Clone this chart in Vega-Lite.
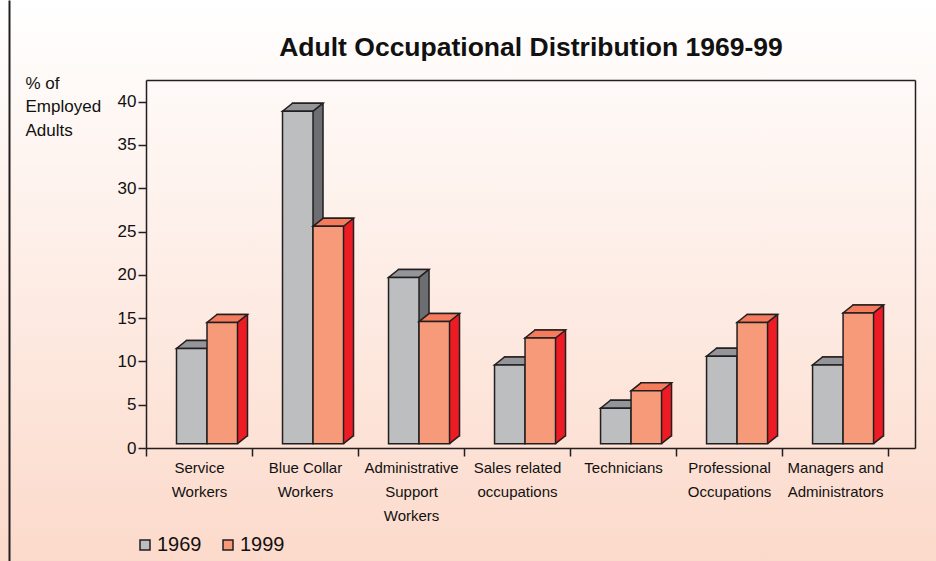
{
  "$schema": "https://vega.github.io/schema/vega-lite/v6.json",
  "width": 936,
  "height": 561,
  "autosize": {"type": "none"},
  "padding": 0,
  "background": "#ffffff",
  "config": {"view": {"stroke": null}, "font": "Liberation Sans"},
  "title": {"text": "Adult Occupational Distribution 1969-99", "anchor": "middle", "dx": 63, "offset": -61, "fontSize": 26.5, "fontWeight": "bold", "font": "Liberation Sans", "color": "#111111"},
  "data": {"values": [
    {"cat": "Service Workers", "year": "1969", "value": 11.5},
    {"cat": "Service Workers", "year": "1999", "value": 14.5},
    {"cat": "Blue Collar Workers", "year": "1969", "value": 38.9},
    {"cat": "Blue Collar Workers", "year": "1999", "value": 25.6},
    {"cat": "Administrative Support Workers", "year": "1969", "value": 19.7},
    {"cat": "Administrative Support Workers", "year": "1999", "value": 14.6},
    {"cat": "Sales related occupations", "year": "1969", "value": 9.6},
    {"cat": "Sales related occupations", "year": "1999", "value": 12.7},
    {"cat": "Technicians", "year": "1969", "value": 4.6},
    {"cat": "Technicians", "year": "1999", "value": 6.6},
    {"cat": "Professional Occupations", "year": "1969", "value": 10.6},
    {"cat": "Professional Occupations", "year": "1999", "value": 14.5},
    {"cat": "Managers and Administrators", "year": "1969", "value": 9.6},
    {"cat": "Managers and Administrators", "year": "1999", "value": 15.6}
  ]},
  "resolve": {"scale": {"x": "independent", "y": "independent"}, "axis": {"x": "independent", "y": "independent"}},
  "layer": [
    {
      "data": {"values": [{}]},
      "mark": {"type": "rect", "fill": {"gradient": "linear", "x1": 0, "y1": 0, "x2": 0, "y2": 1, "stops": [{"offset": 0, "color": "#ffffff"}, {"offset": 1, "color": "#fcdacb"}]}},
      "encoding": {
        "y": {"datum": 0, "type": "quantitative", "scale": {"domain": [0, 1], "range": [561, 0], "nice": false, "zero": false}, "axis": {"orient": "left", "offset": -9, "zindex": 1, "title": null, "grid": false, "ticks": false, "labels": false, "domainColor": "#231f20", "domainWidth": 2}},
        "y2": {"datum": 1}
      }
    },
    {
      "resolve": {"axis": {"x": "independent", "y": "independent"}},
      "layer": [
        {
          "transform": [{"filter": "datum.year == '1969'"}],
          "mark": {"type": "bar", "width": 30.5, "xOffset": 2.75, "yOffset": -8, "y2Offset": -8, "fill": "#6d6e71", "stroke": "#231f20", "strokeWidth": 1.5},
          "encoding": {
            "x": {"field": "cat", "type": "nominal", "axis": null, "scale": {"type": "band", "domain": ["Service Workers", "Blue Collar Workers", "Administrative Support Workers", "Sales related occupations", "Technicians", "Professional Occupations", "Managers and Administrators"], "range": [146, 915], "paddingInner": 0, "paddingOuter": 0.127, "align": 0}},
            "y": {"field": "value", "type": "quantitative", "axis": null, "scale": {"domain": [0, 42.5], "range": [448, 80], "nice": false, "zero": false}},
            "y2": {"datum": 0.5}
          }
        },
        {
          "transform": [{"filter": "datum.year == '1969'"}],
          "mark": {"type": "point", "shape": "M0,0 L30.5,0 L40.5,-8 L10,-8 Z", "size": 4, "filled": true, "opacity": 1, "xOffset": -22.5, "fill": "#939598", "stroke": "#231f20", "strokeWidth": 1.5},
          "encoding": {
            "x": {"field": "cat", "type": "nominal", "axis": null},
            "y": {"field": "value", "type": "quantitative", "axis": null}
          }
        },
        {
          "transform": [{"filter": "datum.year == '1969'"}],
          "mark": {"type": "bar", "width": 30.5, "xOffset": -7.25, "stroke": "#231f20", "strokeWidth": 1.5},
          "encoding": {
            "x": {"field": "cat", "type": "nominal", "axis": {"orient": "bottom", "offset": -113, "zindex": 1, "title": null, "grid": false, "domainColor": "#231f20", "domainWidth": 1.5, "tickColor": "#231f20", "tickWidth": 1.5, "tickSize": 8, "tickBand": "extent", "labelAngle": 0, "labelFont": "Liberation Sans", "labelFontSize": 15, "labelColor": "#111111", "labelLineHeight": 24, "labelPadding": 4, "labelBaseline": "top", "labelOverlap": false, "labelLimit": 0, "labelExpr": "datum.label == 'Service Workers' ? ['Service','Workers'] : datum.label == 'Blue Collar Workers' ? ['Blue Collar','Workers'] : datum.label == 'Administrative Support Workers' ? ['Administrative','Support','Workers'] : datum.label == 'Sales related occupations' ? ['Sales related','occupations'] : datum.label == 'Professional Occupations' ? ['Professional','Occupations'] : datum.label == 'Managers and Administrators' ? ['Managers and','Administrators'] : datum.label"}},
            "y": {"field": "value", "type": "quantitative", "axis": {"orient": "left", "offset": -146, "zindex": 1, "values": [0, 5, 10, 15, 20, 25, 30, 35, 40], "grid": false, "domainColor": "#231f20", "domainWidth": 1.5, "tickColor": "#231f20", "tickWidth": 1.5, "tickSize": 8, "labelFont": "Liberation Sans", "labelFontSize": 17, "labelColor": "#111111", "labelPadding": 2, "title": ["% of", "Employed", "Adults"], "titleAngle": 0, "titleAlign": "left", "titleBaseline": "alphabetic", "titleX": -121, "titleY": 88, "titleFont": "Liberation Sans", "titleFontSize": 17, "titleFontWeight": "normal", "titleColor": "#111111", "titleLineHeight": 23.5}},
            "y2": {"datum": 0.5},
            "color": {"field": "year", "type": "nominal", "scale": {"domain": ["1969", "1999"], "range": ["#bcbec0", "#f79a7a"]}, "legend": {"orient": "none", "legendX": 135, "legendY": 535, "direction": "horizontal", "title": null, "symbolType": "square", "symbolSize": 100, "symbolStrokeColor": "#231f20", "symbolStrokeWidth": 1.5, "labelFont": "Liberation Sans", "labelFontSize": 20, "labelColor": "#111111", "labelOffset": 2, "columnPadding": 16}}
          }
        },
        {
          "transform": [{"filter": "datum.year == '1999'"}],
          "mark": {"type": "bar", "width": 30.5, "xOffset": 33.25, "yOffset": -8, "y2Offset": -8, "fill": "#ed1c24", "stroke": "#231f20", "strokeWidth": 1.5},
          "encoding": {
            "x": {"field": "cat", "type": "nominal", "axis": null},
            "y": {"field": "value", "type": "quantitative", "axis": null},
            "y2": {"datum": 0.5}
          }
        },
        {
          "transform": [{"filter": "datum.year == '1999'"}],
          "mark": {"type": "point", "shape": "M0,0 L10,-8 L9.2,-8.9 L0,-8.9 Z", "size": 4, "filled": true, "opacity": 1, "xOffset": 38.5, "fill": "#ed1c24", "strokeWidth": 0},
          "encoding": {
            "x": {"field": "cat", "type": "nominal", "axis": null},
            "y": {"datum": 0.5, "axis": null}
          }
        },
        {
          "transform": [{"filter": "datum.year == '1999'"}],
          "mark": {"type": "point", "shape": "M0,0 L10,-8", "size": 4, "filled": false, "opacity": 1, "xOffset": 38.5, "fill": "transparent", "stroke": "#231f20", "strokeWidth": 1.5},
          "encoding": {
            "x": {"field": "cat", "type": "nominal", "axis": null},
            "y": {"datum": 0.5, "axis": null}
          }
        },
        {
          "transform": [{"filter": "datum.year == '1999'"}],
          "mark": {"type": "point", "shape": "M0,0 L30.5,0 L40.5,-8 L10,-8 Z", "size": 4, "filled": true, "opacity": 1, "xOffset": 8, "fill": "#f47b5b", "stroke": "#231f20", "strokeWidth": 1.5},
          "encoding": {
            "x": {"field": "cat", "type": "nominal", "axis": null},
            "y": {"field": "value", "type": "quantitative", "axis": null}
          }
        },
        {
          "transform": [{"filter": "datum.year == '1999'"}],
          "mark": {"type": "bar", "width": 30.5, "xOffset": 23.25, "stroke": "#231f20", "strokeWidth": 1.5},
          "encoding": {
            "x": {"field": "cat", "type": "nominal", "axis": {"orient": "top", "offset": -80, "zindex": 1, "title": null, "grid": false, "ticks": false, "labels": false, "domainColor": "#231f20", "domainWidth": 1.5}},
            "y": {"field": "value", "type": "quantitative", "axis": {"orient": "right", "offset": -21, "zindex": 1, "title": null, "grid": false, "ticks": false, "labels": false, "domainColor": "#231f20", "domainWidth": 1.5}},
            "y2": {"datum": 0.5},
            "color": {"field": "year", "type": "nominal"}
          }
        }
      ]
    }
  ]
}
